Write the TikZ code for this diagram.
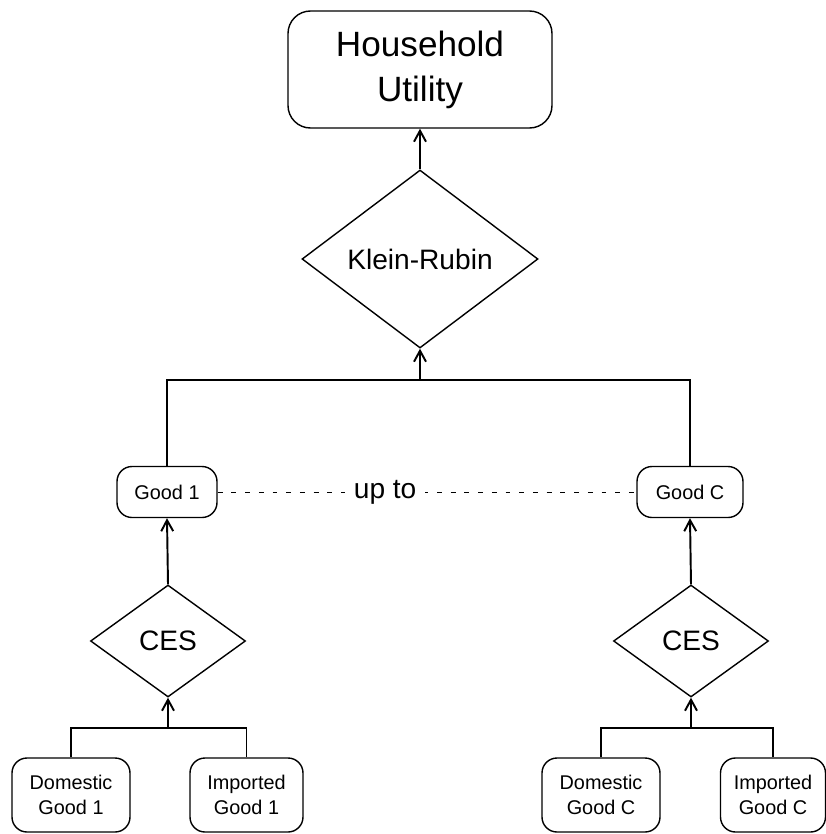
\documentclass[tikz,border=0pt]{standalone}
\usepackage{fontspec}
\setmainfont{Liberation Sans}
\usetikzlibrary{positioning}
\usetikzlibrary{shapes}
\usetikzlibrary{arrows.meta}
\tikzset{>={Straight Barb[length=2.2mm,width=2.4mm]}}

\begin{document}
\begin{tikzpicture}[
            box/.style={draw, rounded corners=0.3cm, align=center, line width=0.8pt, inner sep=0pt},
            choice/.style={draw, diamond, inner sep=0pt, line width=0.8pt},
            link/.style={line width=1.1pt},
            big/.style={font=\fontsize{20}{25.6}\selectfont},
            mid/.style={font=\fontsize{16}{19}\selectfont},
            small/.style={font=\fontsize{11.3}{14.2}\selectfont}
        ]
        \useasboundingbox (0,0) rectangle (16.52,-16.68);
        % top of the tree
        \node[box, big, rounded corners=0.45cm, minimum width=5.28cm, minimum height=2.34cm] (utility) at (8.4,-1.39) {Household\\Utility};
        \node[choice, mid, minimum width=4.72cm, minimum height=3.56cm] (kr) at (8.4,-5.18) {Klein-Rubin};
        \coordinate (top) at (8.4,-7.6);
        % goods
        \node[box, small, minimum width=2.0cm, minimum height=1.02cm] (good1) at (3.34,-9.84) {Good 1};
        \node[box, small, minimum width=2.12cm, minimum height=1.02cm] (goodC) at (13.8,-9.84) {Good C};
        \node[choice, mid, minimum width=3.1cm, minimum height=2.24cm] (ces1) at (3.36,-12.82) {CES};
        \node[choice, mid, minimum width=3.1cm, minimum height=2.24cm] (cesC) at (13.82,-12.82) {CES};
        \coordinate (join1) at (3.36,-14.56);
        \coordinate (joinC) at (13.82,-14.56);
        % varieties
        \node[box, small, minimum width=2.36cm, minimum height=1.48cm] (dom1) at (1.42,-15.9) {Domestic\\Good 1};
        \node[box, small, minimum width=2.26cm, minimum height=1.48cm] (imp1) at (4.93,-15.9) {Imported\\Good 1};
        \node[box, small, minimum width=2.36cm, minimum height=1.48cm] (domC) at (12.02,-15.9) {Domestic\\Good C};
        \node[box, small, minimum width=2.1cm, minimum height=1.48cm] (impC) at (15.46,-15.9) {Imported\\Good C};
        % connectors
        \draw[link, ->] (kr.north) -- (utility.south);
        \draw[link] (good1.north) |- (top) -| (goodC.north);
        \draw[link, ->] (top) -- (kr.south);
        \draw[dash pattern=on 2.8pt off 5pt, line width=0.5pt] (good1.east) -- node[pos=0.4, fill=white, inner sep=5pt, mid] (upto) {up to} (goodC.west);
        \draw[link, ->] (ces1.north) -- (good1.south);
        \draw[link, ->] (cesC.north) -- (goodC.south);
        \draw[link] (dom1.north) |- (join1) -| (imp1.north);
        \draw[link, ->] (join1) -- (ces1.south);
        \draw[link] (domC.north) |- (joinC) -| (impC.north);
        \draw[link, ->] (joinC) -- (cesC.south);
        \end{tikzpicture}
\end{document}
